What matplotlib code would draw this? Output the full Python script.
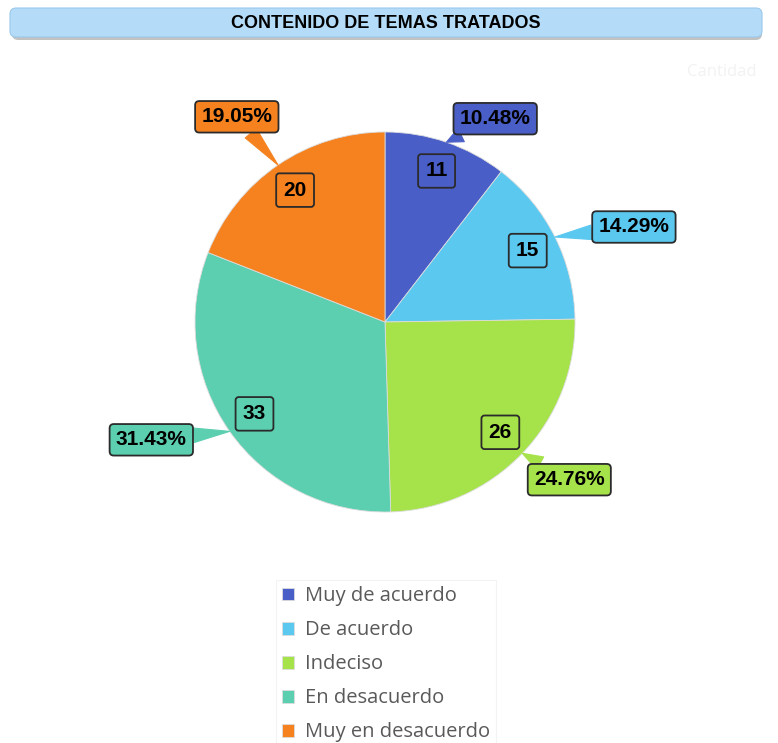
import numpy as np
import matplotlib.pyplot as plt
from matplotlib.patches import FancyBboxPatch
from matplotlib import font_manager

categories = ["Muy de acuerdo", "De acuerdo", "Indeciso", "En desacuerdo", "Muy en desacuerdo"]
counts = [11, 15, 26, 33, 20]
percent_labels = ["10.48%", "14.29%", "24.76%", "31.43%", "19.05%"]
colors = ["#4a5ec8", "#5bc8f0", "#a6e24a", "#5ccfb0", "#f5821f"]

# callout box positions (pie radius = 1, centre at origin)
callout_pos = [(0.58, 1.07), (1.31, 0.50), (0.97, -0.83), (-1.23, -0.62), (-0.78, 1.08)]


def pick_font(names):
    installed = {f.name for f in font_manager.fontManager.ttflist}
    for n in names:
        if n in installed:
            return n
    return "DejaVu Sans"


label_font = pick_font(["Liberation Sans Narrow", "Liberation Sans", "DejaVu Sans"])
legend_font = pick_font(["Open Sans", "Noto Sans", "DejaVu Sans"])

W, H = 778, 743
R_PX = 190
CX, CY = 385, 322

fig = plt.figure(figsize=(W / 100, H / 100), dpi=100)
ax = fig.add_axes([0, 0, 1, 1])

wedges, _ = ax.pie(counts, colors=colors, startangle=90, counterclock=False, radius=1.0,
                   wedgeprops=dict(edgecolor="#dcdcdc", linewidth=0.6))

# pie() resets the limits, so fix them afterwards
ax.set_xlim(-CX / R_PX, (W - CX) / R_PX)
ax.set_ylim(-(H - CY) / R_PX, CY / R_PX)
ax.set_aspect("equal")
ax.axis("off")

for w, n, pct, col, pos in zip(wedges, counts, percent_labels, colors, callout_pos):
    mid = np.deg2rad((w.theta1 + w.theta2) / 2)
    # value label inside the slice
    ax.text(0.84 * np.cos(mid), 0.84 * np.sin(mid), str(n), ha="center", va="center",
            fontsize=15, fontweight="bold", family=label_font, color="black", zorder=5,
            bbox=dict(boxstyle="round,pad=0.35,rounding_size=0.15", fc=col, ec="#2b2b2b", lw=1.3))
    # percentage callout
    ax.annotate(pct, xy=(np.cos(mid), np.sin(mid)), xytext=pos, ha="center", va="center",
                fontsize=15, fontweight="bold", family=label_font, color="black", zorder=5,
                bbox=dict(boxstyle="round,pad=0.3,rounding_size=0.2", fc=col, ec="#2b2b2b", lw=1.3),
                arrowprops=dict(arrowstyle="wedge,tail_width=0.7,shrink_factor=0.5",
                                fc=col, ec=col, lw=0.8, shrinkA=0, shrinkB=0))

# title banner
shadow = FancyBboxPatch((12 / W, 1 - 40 / H), 750 / W, 29 / H, transform=fig.transFigure,
                        boxstyle="round,pad=0,rounding_size=0.008", fc="#9a9a9a", ec="none",
                        alpha=0.6, zorder=1)
banner = FancyBboxPatch((10 / W, 1 - 37 / H), 752 / W, 29 / H, transform=fig.transFigure,
                        boxstyle="round,pad=0,rounding_size=0.008", fc="#b4dcf8", ec="#9cc8ea",
                        lw=0.8, zorder=2)
fig.patches.extend([shadow, banner])
fig.text(386 / W, 1 - 23 / H, "CONTENIDO DE TEMAS TRATADOS", ha="center", va="center",
         fontsize=13, fontweight="bold", family=label_font, color="black", zorder=3)

fig.text(722 / W, 1 - 72 / H, "Cantidad", ha="center", va="center", fontsize=12,
         family=legend_font, color="#f2f2f2")

leg = fig.legend(wedges, categories, loc="upper center", bbox_to_anchor=(386 / W, 1 - 570 / H),
                 frameon=True, fancybox=False, handlelength=0.6, handleheight=0.6,
                 handletextpad=0.5, labelspacing=0.7, borderpad=0.3,
                 prop=dict(family=legend_font, size=14.5))
leg.get_frame().set_edgecolor("#f0f0f0")
leg.get_frame().set_linewidth(0.8)
for t in leg.get_texts():
    t.set_color("#595959")

fig.savefig("out.png", dpi=100)
